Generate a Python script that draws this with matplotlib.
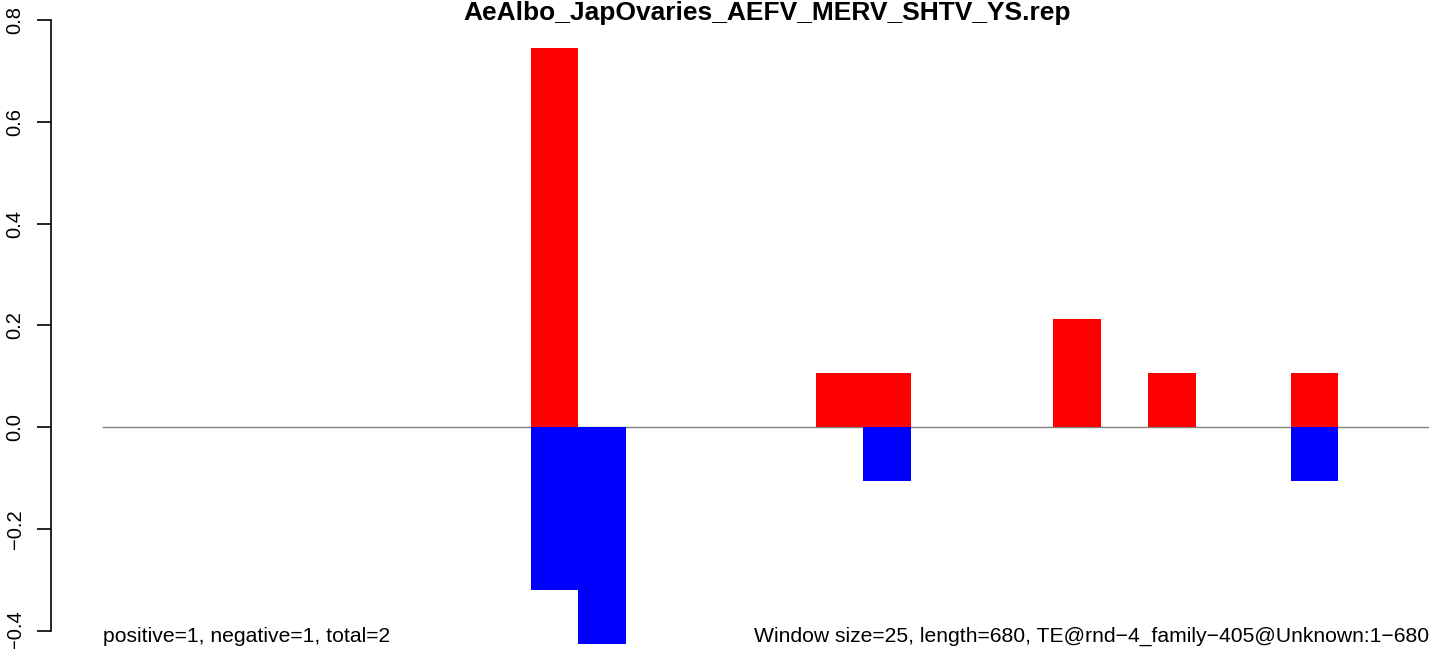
import numpy as np
import matplotlib.pyplot as plt

TITLE = "AeAlbo_JapOvaries_AEFV_MERV_SHTV_YS.rep"
WINDOW = 25
LENGTH = 680

# bin index -> value (unit ~0.1065)
POS_BINS = [9, 15, 16, 20, 22, 25]
POS_VALS = [0.7455, 0.1065, 0.1065, 0.213, 0.1065, 0.1065]
NEG_BINS = [9, 10, 16, 25]
NEG_VALS = [-0.3195, -0.427, -0.1065, -0.1065]

Y_TICKS = [-0.4, -0.2, 0.0, 0.2, 0.4, 0.6, 0.8]
LEFT_NOTE = "positive=1, negative=1, total=2"
RIGHT_NOTE = "Window size=25, length=680, TE@rnd\u22124_family\u2212405@Unknown:1\u2212680"

plt.rcParams["font.family"] = ["Liberation Sans", "DejaVu Sans"]

W, H = 1429, 649
fig = plt.figure(figsize=(W / 100, H / 100), dpi=100)

ax_left = 51
ax = fig.add_axes([ax_left / W, 0, (W - ax_left) / W, 1])

px_x = 47.5 / WINDOW
x0_px = 103
ax.set_xlim(-(x0_px - ax_left) / px_x, (W - x0_px) / px_x)
px_y = 508.75
y0_px = 427
ax.set_ylim(-(H - y0_px) / px_y, y0_px / px_y)

ax.axhline(0, xmin=(x0_px - ax_left) / (W - ax_left), xmax=1,
           color="#808080", lw=1.0, zorder=1)

ax.bar(np.array(POS_BINS) * WINDOW, POS_VALS, width=WINDOW, align="edge",
       color="#ff0000", linewidth=0, zorder=2)
ax.bar(np.array(NEG_BINS) * WINDOW, NEG_VALS, width=WINDOW, align="edge",
       color="#0000ff", linewidth=0, zorder=2)

for s in ["top", "right", "bottom"]:
    ax.spines[s].set_visible(False)
ax.spines["left"].set_bounds(-0.4, 0.8)
ax.spines["left"].set_linewidth(1.2)
ax.set_xticks([])
ax.set_yticks(Y_TICKS)
ax.set_yticklabels([f"{v:.1f}".replace("-", "\u2212") for v in Y_TICKS],
                   rotation=90, va="center", fontsize=14.5)
ax.tick_params(axis="y", direction="out", length=10, width=1.2, pad=9)

fig.text(767 / W, 1 - 13 / H, TITLE, ha="center", va="center",
         fontsize=19, fontweight="bold")
fig.text(x0_px / W, 1 - 636 / H, LEFT_NOTE, ha="left", va="center", fontsize=15.2)
fig.text(1, 1 - 636 / H, RIGHT_NOTE, ha="right", va="center", fontsize=15.2)

fig.savefig("out.png", dpi=100)
